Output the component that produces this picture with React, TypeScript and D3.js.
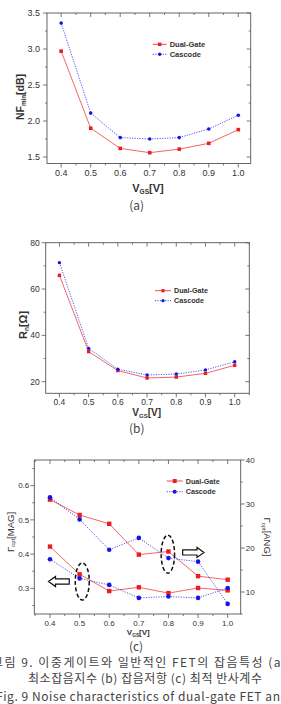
import * as d3 from 'd3';

const vgs = [0.4, 0.5, 0.6, 0.7, 0.8, 0.9, 1.0];

// (a) minimum noise figure [dB]
const nfDualGate = [2.97, 1.9, 1.62, 1.56, 1.61, 1.69, 1.88];
const nfCascode = [3.36, 2.11, 1.77, 1.75, 1.77, 1.89, 2.08];

// (b) noise resistance [ohm]
const rnDualGate = [65.9, 33.0, 24.8, 21.6, 22.0, 23.6, 27.1];
const rnCascode = [71.4, 34.4, 25.4, 22.9, 23.3, 25.1, 28.6];

// (c) optimum reflection coefficient: magnitude (left) and angle (right)
const magDualGate = [0.422, 0.341, 0.292, 0.303, 0.286, 0.301, 0.294];
const magCascode = [0.385, 0.329, 0.31, 0.272, 0.276, 0.272, 0.301];
const angDualGate = [31.0, 27.5, 25.5, 18.5, 19.2, 13.6, 12.8];
const angCascode = [31.5, 26.5, 19.6, 22.3, 17.7, 16.9, 7.3];

const xTicks = [0.4, 0.5, 0.6, 0.7, 0.8, 0.9, 1.0];
const nfTicks = [1.5, 2.0, 2.5, 3.0, 3.5];
const rnTicks = [20, 40, 60, 80];
const magTicks = [0.3, 0.4, 0.5, 0.6];
const angTicks = [10, 20, 30, 40];

const seriesNames = ['Dual-Gate', 'Cascode'];
const panelLabels = ['(a)', '(b)', '(c)'];
const captionLines = [
  '그림 9. 이중게이트와 일반적인 FET의 잡음특성 (a)',
  '최소잡음지수 (b) 잡음저항 (c) 최적 반사계수',
  'Fig. 9 Noise characteristics of dual-gate FET and',
];

const FONT = '"Liberation Sans", Arial, sans-serif';
const KFONT = '"Noto Sans CJK KR", "Noto Sans", sans-serif';
const RED = '#ec1c22';
const BLUE = '#1414e8';
const AXIS = '#555';
const INK = '#333';

type Scale = d3.ScaleLinear<number, number>;

function minorTicks(scale: Scale, step: number, major: number[]) {
  const [a, b] = scale.domain();
  const out: number[] = [];
  for (let k = Math.ceil(a / step - 1e-6); k * step <= b + 1e-9; k++) {
    const v = +(k * step).toFixed(6);
    if (!major.some((m) => Math.abs(m - v) < step / 10)) out.push(v);
  }
  return out;
}

function Axes({ x, y, y2, yTicks, yStep, yFmt, y2Ticks, y2Step, fs, xLabelDy, yLabelGap }: any) {
  const [x0, x1] = x.range();
  const [yb, yt] = y.range();
  const xMinor = minorTicks(x, 0.05, xTicks);
  const yMinor = minorTicks(y, yStep, yTicks);
  const y2Minor = y2 ? minorTicks(y2, y2Step, y2Ticks) : [];
  const tick = (k: string, a: number, b: number, c: number, d: number) => (
    <line key={k} x1={a} y1={b} x2={c} y2={d} stroke={AXIS} strokeWidth={0.8} />
  );
  return (
    <g fontFamily={FONT} fontSize={fs} fill={INK}>
      {xTicks.map((v) => tick('xb' + v, x(v), yb, x(v), yb + 4))}
      {xMinor.map((v) => tick('xbm' + v, x(v), yb, x(v), yb + 2))}
      {xTicks.map((v) => tick('xt' + v, x(v), yt, x(v), yt + 4))}
      {xMinor.map((v) => tick('xtm' + v, x(v), yt, x(v), yt + 2))}
      {yTicks.map((v: number) => tick('yl' + v, x0, y(v), x0 - 4, y(v)))}
      {yMinor.map((v) => tick('ylm' + v, x0, y(v), x0 - 2, y(v)))}
      {y2
        ? [
            ...y2Ticks.map((v: number) => tick('yr' + v, x1, y2(v), x1 + 4, y2(v))),
            ...y2Minor.map((v) => tick('yrm' + v, x1, y2(v), x1 + 2, y2(v))),
          ]
        : [
            ...yTicks.map((v: number) => tick('yr' + v, x1, y(v), x1 - 4, y(v))),
            ...yMinor.map((v) => tick('yrm' + v, x1, y(v), x1 - 2, y(v))),
          ]}
      <rect x={x0} y={yt} width={x1 - x0} height={yb - yt} fill="none" stroke={AXIS} strokeWidth={0.9} />
      {xTicks.map((v) => (
        <text key={'xl' + v} x={x(v)} y={yb + xLabelDy} textAnchor="middle">
          {v.toFixed(1)}
        </text>
      ))}
      {yTicks.map((v: number) => (
        <text key={'yl' + v} x={x0 - yLabelGap} y={y(v)} dy="0.35em" textAnchor="end">
          {yFmt(v)}
        </text>
      ))}
      {y2 &&
        y2Ticks.map((v: number) => (
          <text key={'y2l' + v} x={x1 + yLabelGap} y={y2(v)} dy="0.35em" textAnchor="start">
            {v}
          </text>
        ))}
    </g>
  );
}

function Series({ x, y, values, dual, size }: any) {
  const line = d3
    .line<number>()
    .x((_, i) => x(vgs[i]))
    .y((d) => y(d));
  const color = dual ? RED : BLUE;
  return (
    <g>
      <path
        d={line(values) || ''}
        fill="none"
        stroke={color}
        strokeWidth={dual ? 0.8 : 0.9}
        strokeOpacity={dual ? 0.85 : 0.8}
        strokeDasharray={dual ? undefined : '1.2 1.3'}
      />
      {values.map((v: number, i: number) =>
        dual ? (
          <rect key={i} x={x(vgs[i]) - size / 2} y={y(v) - size / 2} width={size} height={size} fill={color} />
        ) : (
          <circle key={i} cx={x(vgs[i])} cy={y(v)} r={size / 2} fill={color} />
        )
      )}
    </g>
  );
}

function Legend({ x, y, w, rowGap, size, fs }: any) {
  return (
    <g fontFamily={FONT} fontSize={fs} fontWeight="bold" fill={INK}>
      {seriesNames.map((name, i) => {
        const dual = i === 0;
        const cy = y + i * rowGap;
        const color = dual ? RED : BLUE;
        return (
          <g key={name}>
            <line
              x1={x}
              x2={x + w}
              y1={cy}
              y2={cy}
              stroke={color}
              strokeWidth={0.8}
              strokeDasharray={dual ? undefined : '1.2 1.3'}
            />
            {dual ? (
              <rect x={x + w / 2 - size / 2} y={cy - size / 2} width={size} height={size} fill={color} />
            ) : (
              <circle cx={x + w / 2} cy={cy} r={size / 2} fill={color} />
            )}
            <text x={x + w + 3} y={cy} dy="0.35em">
              {name}
            </text>
          </g>
        );
      })}
    </g>
  );
}

function VgsTitle({ x, y, fs }: any) {
  return (
    <text x={x} y={y} textAnchor="middle" fontFamily={FONT} fontSize={fs} fontWeight="bold" fill={INK}>
      V
      <tspan fontSize={fs * 0.6} dy={fs * 0.2}>
        GS
      </tspan>
      <tspan dy={-fs * 0.2}>[V]</tspan>
    </text>
  );
}

function SubTitle({ x, y, fs, main, sub, unit, rotate, weight }: any) {
  return (
    <text
      transform={`translate(${x},${y}) rotate(${rotate})`}
      textAnchor="middle"
      fontFamily={FONT}
      fontSize={fs}
      fontWeight={weight}
      fill={INK}
    >
      {main}
      <tspan fontSize={fs * 0.6} dy={fs * 0.2}>
        {sub}
      </tspan>
      <tspan dy={-fs * 0.2}>{unit}</tspan>
    </text>
  );
}

function BlockArrow({ tail, tip, cy }: any) {
  const dir = Math.sign(tip - tail);
  const head = 7 * dir;
  const p = [
    [tail, cy - 2.6],
    [tip - head, cy - 2.6],
    [tip - head, cy - 5],
    [tip, cy],
    [tip - head, cy + 5],
    [tip - head, cy + 2.6],
    [tail, cy + 2.6],
  ];
  return <polygon points={p.map((q) => q.join(',')).join(' ')} fill="#fff" stroke="#111" strokeWidth={1.2} />;
}

export default function App() {
  // (a)
  const xA = d3.scaleLinear().domain([0.352, 1.042]).range([47, 250.7]);
  const yA = d3.scaleLinear().domain([1.41, 3.5]).range([163.5, 13]);
  // (b)
  const xB = d3.scaleLinear().domain([0.353, 1.05]).range([45.7, 249.3]);
  const yB = d3.scaleLinear().domain([15, 80]).range([393.3, 242.7]);
  // (c)
  const xC = d3.scaleLinear().domain([0.347, 1.044]).range([34.3, 240.7]);
  const yMag = d3.scaleLinear().domain([0.225, 0.675]).range([614, 460]);
  const yAng = d3.scaleLinear().domain([5, 40]).range([614, 460]);

  return (
    <svg
      width={281}
      height={704}
      viewBox="0 0 281 704"
      style={{ position: 'absolute', left: 0, top: 0, background: '#fff' }}
    >
      <rect width={281} height={704} fill="#fff" />

      {/* (a) NFmin */}
      <Axes x={xA} y={yA} yTicks={nfTicks} yStep={0.25} yFmt={(v: number) => v.toFixed(1)} fs={9} xLabelDy={12.7} yLabelGap={7} />
      <Series x={xA} y={yA} values={nfDualGate} dual size={3.6} />
      <Series x={xA} y={yA} values={nfCascode} size={3.6} />
      <Legend x={152.7} y={44.3} w={14} rowGap={10} size={3.4} fs={7.5} />
      <VgsTitle x={148} y={192} fs={11} />
      <SubTitle x={24} y={97} fs={10.5} main="NF" sub="min" unit="[dB]" rotate={-90} weight="bold" />

      {/* (b) Rn */}
      <Axes x={xB} y={yB} yTicks={rnTicks} yStep={10} yFmt={(v: number) => String(v)} fs={8.5} xLabelDy={11.7} yLabelGap={6} />
      <Series x={xB} y={yB} values={rnDualGate} dual size={3.4} />
      <Series x={xB} y={yB} values={rnCascode} size={3.4} />
      <Legend x={155} y={290.7} w={16} rowGap={10} size={3.2} fs={7.2} />
      <VgsTitle x={146.7} y={416} fs={10} />
      <SubTitle x={26.5} y={325} fs={11} main="R" sub="n" unit="[Ω]" rotate={-90} weight="bold" />

      {/* (c) Gamma opt */}
      <Axes
        x={xC}
        y={yMag}
        y2={yAng}
        yTicks={magTicks}
        yStep={0.05}
        yFmt={(v: number) => v.toFixed(1)}
        y2Ticks={angTicks}
        y2Step={5}
        fs={8}
        xLabelDy={11.5}
        yLabelGap={5}
      />
      <Series x={xC} y={yAng} values={angDualGate} dual size={4.4} />
      <Series x={xC} y={yAng} values={angCascode} size={4.6} />
      <Series x={xC} y={yMag} values={magDualGate} dual size={4.4} />
      <Series x={xC} y={yMag} values={magCascode} size={4.6} />
      <Legend x={166.7} y={481} w={16} rowGap={10.7} size={4} fs={7.2} />
      <VgsTitle x={138.3} y={635} fs={8} />
      <SubTitle x={13.5} y={532} fs={9.5} main="Γ" sub="opt" unit="[MAG]" rotate={-90} weight="normal" />
      <SubTitle x={263.5} y={537} fs={9.5} main="Γ" sub="opt" unit="[ANG]" rotate={90} weight="normal" />

      {/* grouping ellipses and axis arrows */}
      <ellipse
        cx={xC(0.509)}
        cy={yMag(0.32)}
        rx={7}
        ry={18.5}
        fill="none"
        stroke="#111"
        strokeWidth={1.5}
        strokeDasharray="4 2.4"
      />
      <ellipse
        cx={xC(0.798)}
        cy={yAng(18.6)}
        rx={6.7}
        ry={19}
        fill="none"
        stroke="#111"
        strokeWidth={1.5}
        strokeDasharray="4 2.4"
      />
      <BlockArrow tail={xC(0.465)} tip={xC(0.395)} cy={yMag(0.32)} />
      <BlockArrow tail={xC(0.848)} tip={xC(0.92)} cy={yAng(19)} />

      {/* panel labels */}
      <g fontFamily={KFONT} fontSize={12} fill="#444" textAnchor="middle">
        <text x={136.7} y={210}>
          {panelLabels[0]}
        </text>
        <text x={136.7} y={433}>
          {panelLabels[1]}
        </text>
        <text x={136} y={651}>
          {panelLabels[2]}
        </text>
      </g>

      {/* caption */}
      <g fontFamily={KFONT} fontSize={12} fill="#444">
        <text x={-8} y={666.5} textLength={294} lengthAdjust="spacing">
          {captionLines[0]}
        </text>
        <text x={28} y={683} textLength={234} lengthAdjust="spacing">
          {captionLines[1]}
        </text>
        <text x={-4} y={701} textLength={292} lengthAdjust="spacing">
          {captionLines[2]}
        </text>
      </g>
    </svg>
  );
}
